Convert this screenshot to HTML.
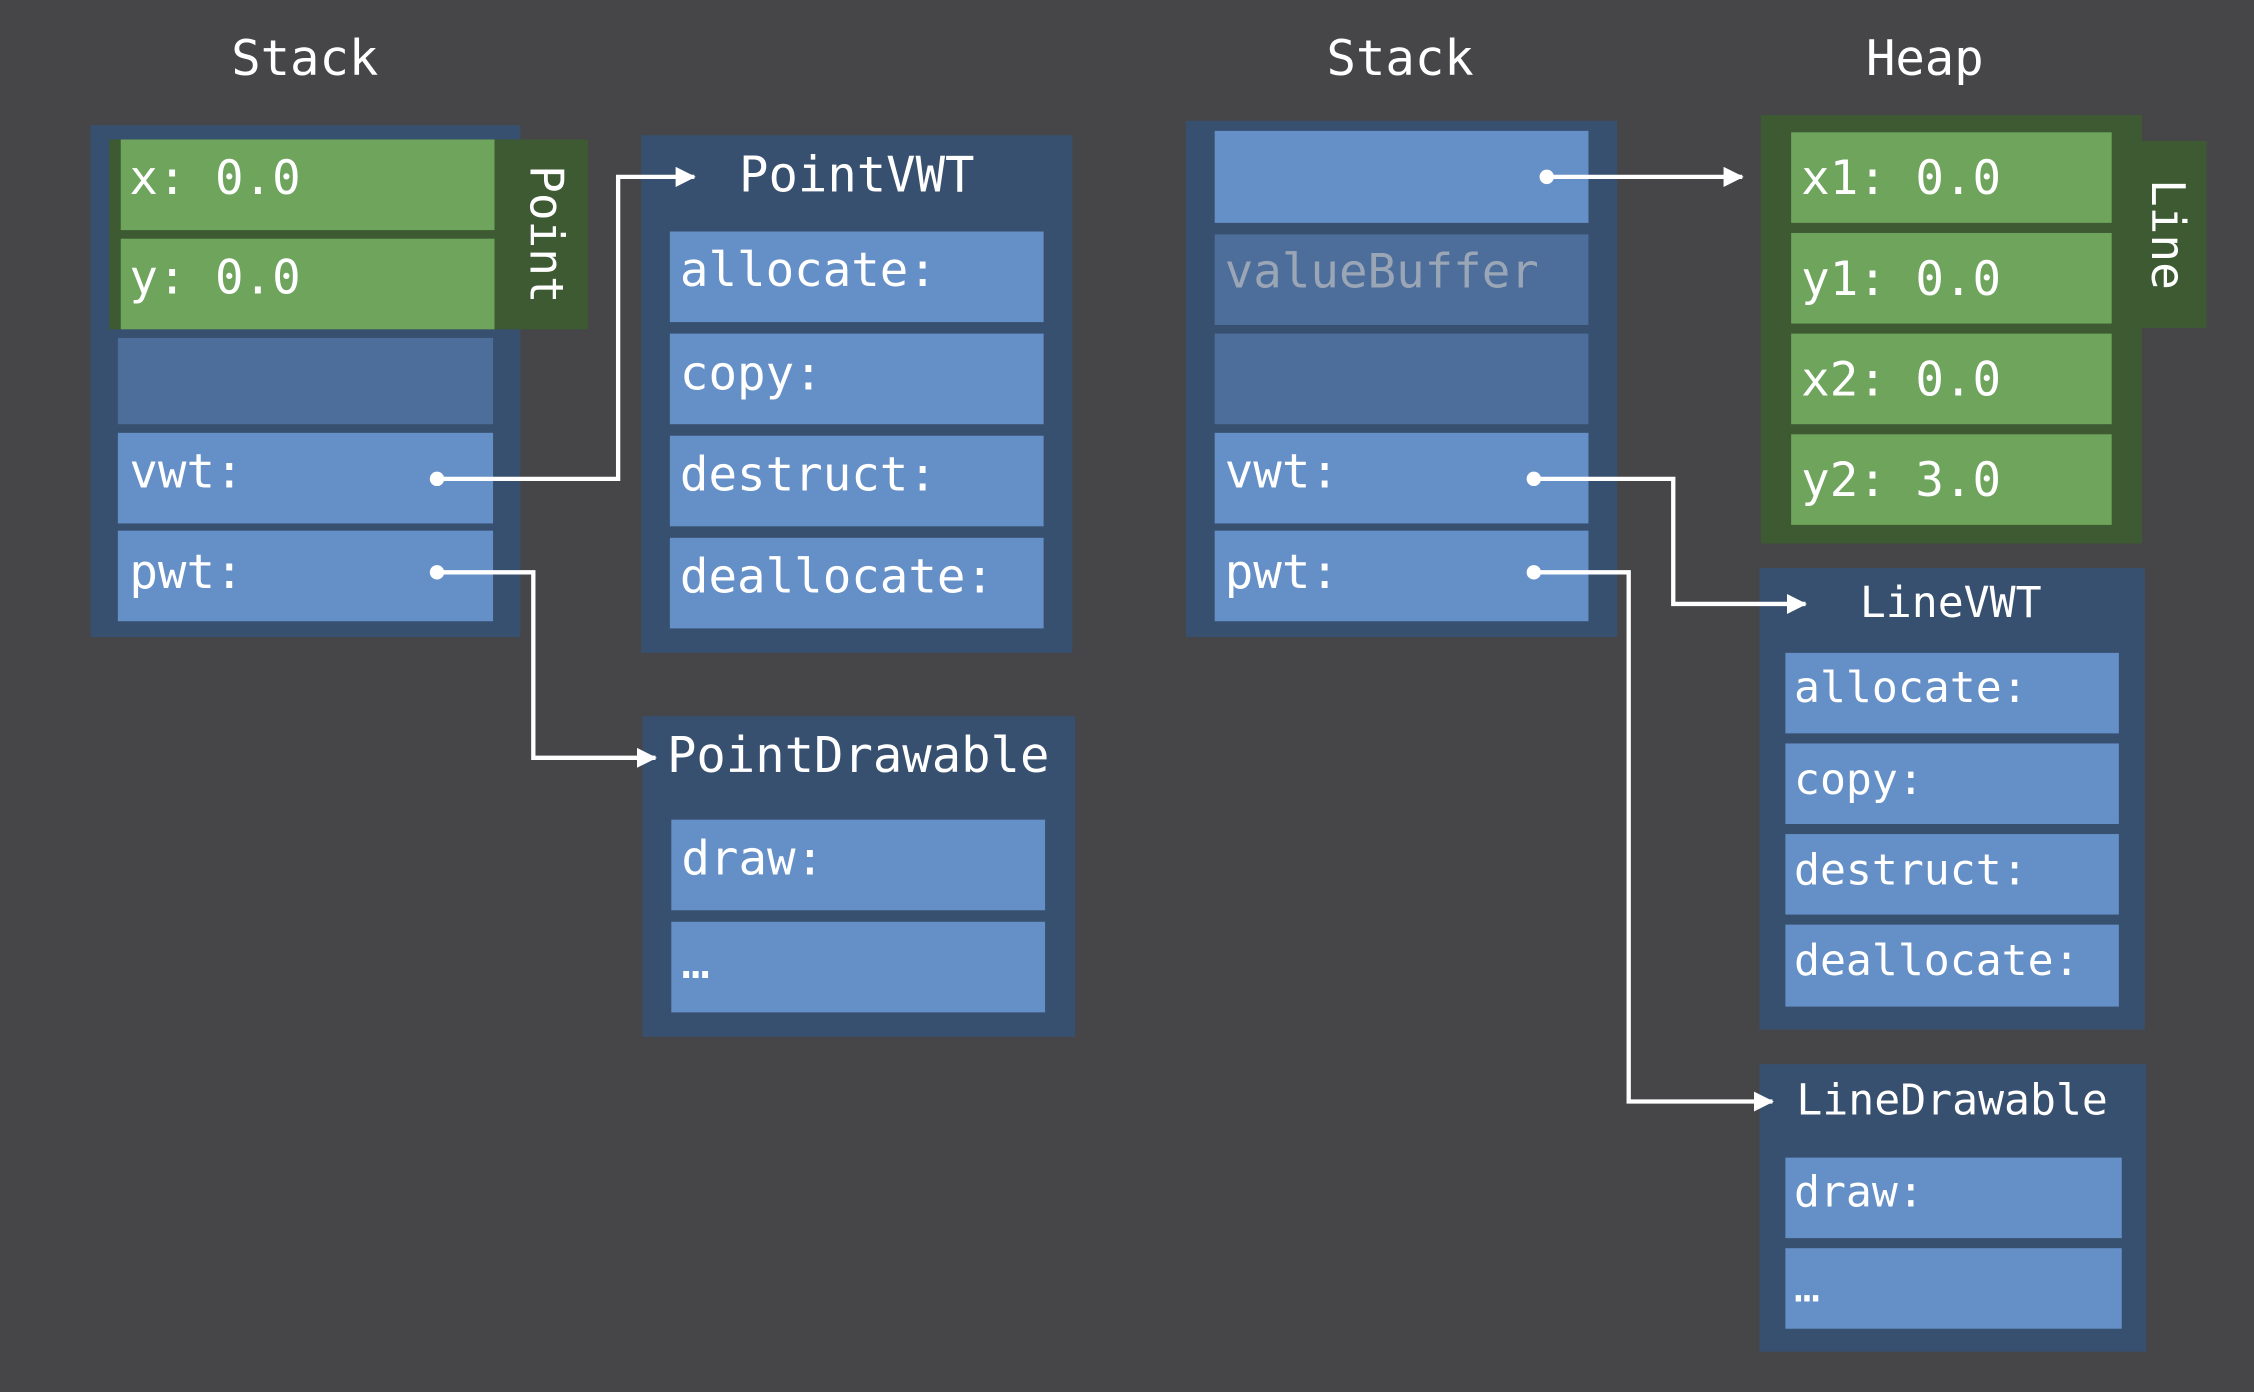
<!DOCTYPE html>
<html><head><meta charset="utf-8"><style>
html,body{margin:0;padding:0;background:#464648;}
svg{display:block;}
text{font-family:"DejaVu Sans Mono","Liberation Mono",monospace;fill:#fff;}
</style></head><body>
<svg width="2254" height="1392" viewBox="0 0 1568 968" preserveAspectRatio="none" xmlns="http://www.w3.org/2000/svg">
<rect x="0" y="0" width="1568" height="968" fill="#464648"/>
<defs><marker id="ah" markerWidth="14" markerHeight="14" refX="13" refY="7" orient="auto" markerUnits="userSpaceOnUse"><path d="M0,0 L14,7 L0,14 Z" fill="#fff"/></marker></defs>
<g font-size="34" text-anchor="middle">
<text x="212" y="52">Stack</text>
<text x="974" y="52">Stack</text>
<text x="1339" y="52">Heap</text>
</g>
<!-- left stack -->
<rect x="63" y="87" width="299" height="356" fill="#38506f"/>
<rect x="76" y="97" width="333" height="132" fill="#3d5a33"/>
<rect x="84" y="97" width="260" height="63" fill="#6ea45c"/>
<rect x="84" y="166" width="260" height="63" fill="#6ea45c"/>
<text x="380" y="163" font-size="32" text-anchor="middle" transform="rotate(90 380 163)" dy="11">Point</text>
<rect x="82" y="235" width="261" height="60" fill="#4d6d9a"/>
<rect x="82" y="301" width="261" height="63" fill="#658fc7"/>
<rect x="82" y="369" width="261" height="63" fill="#658fc7"/>
<g font-size="33">
<text x="90" y="135">x: 0.0</text>
<text x="90" y="204">y: 0.0</text>
<text x="90" y="339">vwt:</text>
<text x="90" y="409">pwt:</text>
</g>
<!-- PointVWT -->
<rect x="446" y="94" width="300" height="360" fill="#38506f"/>
<text x="596" y="133" font-size="34" text-anchor="middle">PointVWT</text>
<rect x="466" y="161" width="260" height="63" fill="#658fc7"/>
<rect x="466" y="232" width="260" height="63" fill="#658fc7"/>
<rect x="466" y="303" width="260" height="63" fill="#658fc7"/>
<rect x="466" y="374" width="260" height="63" fill="#658fc7"/>
<g font-size="33">
<text x="473" y="199">allocate:</text>
<text x="473" y="271">copy:</text>
<text x="473" y="341">destruct:</text>
<text x="473" y="412">deallocate:</text>
</g>
<!-- PointDrawable -->
<rect x="447" y="498" width="301" height="223" fill="#38506f"/>
<text x="597" y="537" font-size="34" text-anchor="middle">PointDrawable</text>
<rect x="467" y="570" width="260" height="63" fill="#658fc7"/>
<rect x="467" y="641" width="260" height="63" fill="#658fc7"/>
<g font-size="33"><text x="474" y="608">draw:</text><text x="474" y="680">…</text></g>
<!-- right stack -->
<rect x="825" y="84" width="300" height="359" fill="#38506f"/>
<rect x="845" y="91" width="260" height="64" fill="#658fc7"/>
<rect x="845" y="163" width="260" height="63" fill="#4d6d9a"/>
<rect x="845" y="232" width="260" height="63" fill="#4d6d9a"/>
<rect x="845" y="301" width="260" height="63" fill="#658fc7"/>
<rect x="845" y="369" width="260" height="63" fill="#658fc7"/>
<g font-size="33">
<text x="852" y="200" style="fill:#9aa6b6">valueBuffer</text>
<text x="852" y="339">vwt:</text>
<text x="852" y="409">pwt:</text>
</g>
<!-- Heap Line -->
<rect x="1225" y="80" width="265" height="298" fill="#3d5a33"/>
<rect x="1488" y="98" width="47" height="130" fill="#3d5a33"/>
<text x="1508" y="163" font-size="32" text-anchor="middle" transform="rotate(90 1508 163)" dy="11">Line</text>
<rect x="1246" y="92" width="223" height="63" fill="#6ea45c"/>
<rect x="1246" y="162" width="223" height="63" fill="#6ea45c"/>
<rect x="1246" y="232" width="223" height="63" fill="#6ea45c"/>
<rect x="1246" y="302" width="223" height="63" fill="#6ea45c"/>
<g font-size="33">
<text x="1253" y="135">x1: 0.0</text>
<text x="1253" y="205">y1: 0.0</text>
<text x="1253" y="275">x2: 0.0</text>
<text x="1253" y="345">y2: 3.0</text>
</g>
<!-- LineVWT -->
<rect x="1224" y="395" width="268" height="321" fill="#38506f"/>
<text x="1357" y="429" font-size="30" text-anchor="middle">LineVWT</text>
<rect x="1242" y="454" width="232" height="56" fill="#658fc7"/>
<rect x="1242" y="517" width="232" height="56" fill="#658fc7"/>
<rect x="1242" y="580" width="232" height="56" fill="#658fc7"/>
<rect x="1242" y="643" width="232" height="57" fill="#658fc7"/>
<g font-size="30">
<text x="1248" y="488">allocate:</text>
<text x="1248" y="552">copy:</text>
<text x="1248" y="615">destruct:</text>
<text x="1248" y="678">deallocate:</text>
</g>
<!-- LineDrawable -->
<rect x="1224" y="740" width="269" height="200" fill="#38506f"/>
<text x="1358" y="775" font-size="30" text-anchor="middle">LineDrawable</text>
<rect x="1242" y="805" width="234" height="56" fill="#658fc7"/>
<rect x="1242" y="868" width="234" height="56" fill="#658fc7"/>
<g font-size="30"><text x="1248" y="839">draw:</text><text x="1248" y="905">…</text></g>
<!-- connectors -->
<g stroke="#fff" stroke-width="3" fill="none">
<path d="M304,333 H430 V123 H483" marker-end="url(#ah)"/>
<path d="M304,398 H371 V527 H456" marker-end="url(#ah)"/>
<path d="M1076,123 H1212" marker-end="url(#ah)"/>
<path d="M1067,333 H1164 V420 H1256" marker-end="url(#ah)"/>
<path d="M1067,398 H1133 V766 H1233" marker-end="url(#ah)"/>
</g>
<g fill="#fff">
<circle cx="304" cy="333" r="5"/><circle cx="304" cy="398" r="5"/>
<circle cx="1076" cy="123" r="5"/><circle cx="1067" cy="333" r="5"/><circle cx="1067" cy="398" r="5"/>
</g>
</svg>
</body></html>
